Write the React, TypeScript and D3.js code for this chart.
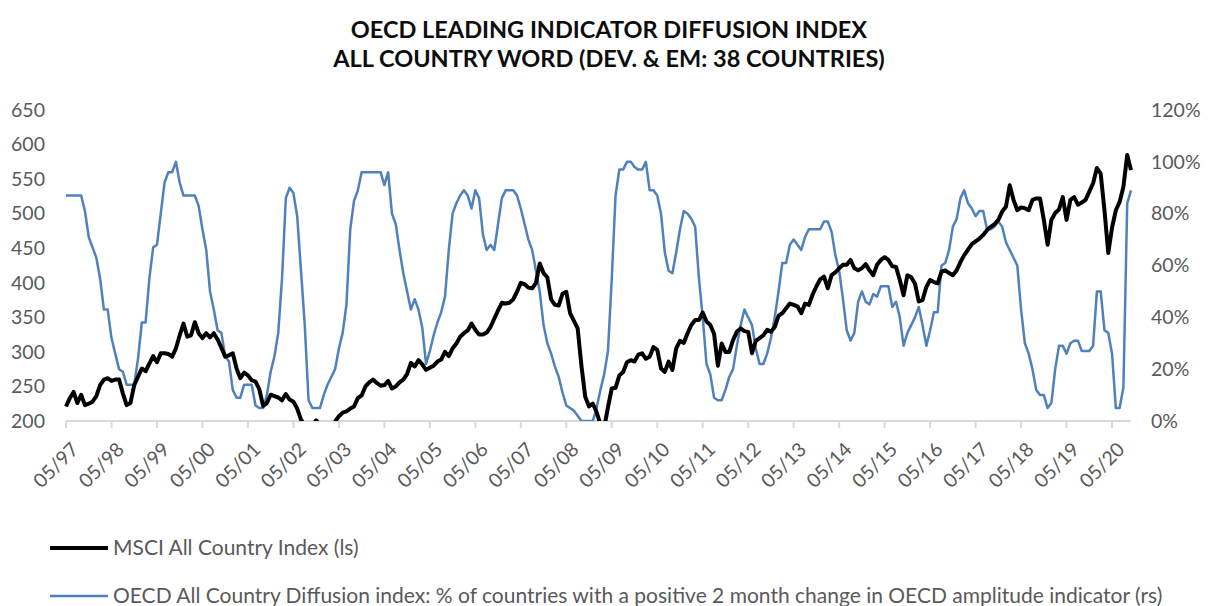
import * as d3 from "d3";

// monthly data, 05/1997 .. 10/2020 (one row per May..Apr year)
const msci = [
  221, 233, 242, 226, 238, 223, 225, 228, 236, 252, 260, 262,
  258, 260, 260, 240, 223, 226, 252, 264, 276, 272, 283, 294,
  285, 298, 298, 297, 293, 305, 324, 341, 322, 324, 343, 327,
  320, 327, 321, 327, 318, 306, 293, 295, 298, 276, 262, 270,
  266, 259, 257, 246, 222, 226, 238, 236, 234, 230, 239, 231,
  228, 218, 202, 194, 188, 193, 201, 195, 189, 186, 192, 199,
  207, 212, 214, 218, 221, 233, 237, 250, 256, 260, 255, 251,
  252, 258, 247, 250, 256, 260, 268, 284, 279, 288, 282, 274,
  277, 280, 286, 289, 300, 294, 305, 312, 322, 327, 331, 341,
  332, 325, 325, 328, 336, 348, 360, 371, 370, 371, 376, 387,
  400, 398, 393, 392, 400, 428, 414, 408, 376, 368, 367, 384,
  387, 356, 345, 334, 280, 235, 221, 225, 213, 195, 190, 220,
  247, 248, 266, 271, 285, 288, 286, 296, 298, 290, 293, 307,
  303, 276, 271, 286, 274, 305, 316, 313, 327, 339, 346, 346,
  357, 344, 339, 326, 280, 312, 300, 300, 317, 329, 334, 330,
  329, 298, 316, 320, 324, 332, 329, 336, 352, 356, 363, 370,
  368, 366, 356, 370, 368, 383, 395, 405, 409, 392, 411, 415,
  421, 426, 426, 433, 421, 418, 421, 427, 418, 411, 426, 433,
  437, 433, 424, 423, 404, 382, 411, 408, 399, 373, 375, 394,
  404, 401, 399, 416, 418, 414, 411, 418, 430, 440, 448, 456,
  460, 464, 469, 476, 481, 485, 491, 503, 510, 541, 520, 505,
  509, 508, 505, 520, 522, 522, 491, 455, 491, 501, 506, 524,
  491, 520, 524, 513, 516, 520, 532, 544, 566, 558, 505, 443,
  480, 505, 517, 539, 585, 563,
];

// % of countries with a positive 2 month change
const diffusion = [
  87, 87, 87, 87, 87, 81, 71, 67, 63, 55, 43, 43,
  32, 26, 20, 19, 14, 14, 14, 24, 38, 38, 55, 67,
  68, 80, 92, 96, 96, 100, 92, 87, 87, 87, 87, 83,
  74, 66, 50, 43, 35, 34, 25, 23, 12, 9, 9, 14,
  14, 14, 6, 5, 5, 10, 19, 25, 34, 55, 86, 90,
  88, 79, 58, 37, 8, 5, 5, 5, 10, 14, 17, 20,
  28, 34, 45, 74, 85, 89, 96, 96, 96, 96, 96, 96,
  91, 96, 80, 76, 66, 57, 50, 43, 47, 43, 36, 22,
  27, 33, 38, 42, 48, 66, 80, 84, 87, 89, 87, 82,
  89, 86, 72, 66, 68, 66, 76, 86, 89, 89, 89, 87,
  82, 76, 70, 66, 58, 50, 37, 30, 26, 21, 17, 11,
  6, 5, 4, 2, 0, 0, 0, 0, 5, 12, 18, 27,
  55, 87, 97, 97, 100, 100, 98, 97, 97, 100, 89, 89,
  87, 80, 65, 58, 57, 65, 74, 81, 80, 78, 75, 55,
  40, 22, 18, 9, 8, 8, 12, 17, 20, 29, 37, 43,
  40, 37, 28, 22, 22, 26, 32, 40, 50, 61, 61, 68,
  70, 68, 66, 71, 74, 74, 74, 74, 77, 77, 73, 64,
  58, 47, 35, 31, 34, 46, 50, 46, 45, 49, 48, 52,
  52, 52, 44, 46, 40, 29, 34, 37, 40, 44, 37, 29,
  35, 42, 42, 60, 61, 66, 75, 78, 86, 89, 84, 82,
  79, 81, 81, 74, 74, 75, 77, 75, 69, 66, 63, 60,
  43, 30, 26, 20, 12, 10, 10, 5, 7, 20, 29, 29,
  26, 30, 31, 31, 27, 27, 27, 29, 50, 50, 35, 34,
  26, 5, 5, 13, 84, 89,
];

const leftTicks = [200, 250, 300, 350, 400, 450, 500, 550, 600, 650];
const rightTicks = [0, 20, 40, 60, 80, 100, 120];

const titleLines = [
  "OECD LEADING INDICATOR DIFFUSION INDEX",
  "ALL COUNTRY WORD (DEV. & EM: 38 COUNTRIES)",
];
const legendItems = [
  { label: "MSCI All Country Index (ls)", color: "#000000", width: 4 },
  {
    label:
      "OECD All Country Diffusion index: % of countries with a positive 2 month change in OECD amplitude indicator (rs)",
    color: "#4f81bd",
    width: 2.5,
  },
];

const width = 1219;
const height = 606;
const plot = { left: 66, right: 1131, top: 110, bottom: 421 };
const font = "Lato, 'Noto Sans', sans-serif";
const grey = "#595959";

const start = new Date(1997, 4, 1);
const months = msci.map((_, i) => d3.timeMonth.offset(start, i));
const fmt = d3.timeFormat("%m/%y");

export default function App() {
  const x = d3
    .scalePoint<string>()
    .domain(months.map((d) => fmt(d)))
    .range([plot.left, plot.right]);
  const yL = d3.scaleLinear().domain([200, 650]).range([plot.bottom, plot.top]);
  const yR = d3.scaleLinear().domain([0, 120]).range([plot.bottom, plot.top]);

  const msciLine = d3
    .line<number>()
    .x((_, i) => x(fmt(months[i]))!)
    .y((d) => yL(d));
  const diffLine = d3
    .line<number>()
    .x((_, i) => x(fmt(months[i]))!)
    .y((d) => yR(d));

  const yearTicks = months.filter((d) => d.getMonth() === 4);

  return (
    <svg
      width={width}
      height={height}
      style={{ position: "absolute", left: 0, top: 0, background: "#fff" }}
      fontFamily={font}
    >
      <defs>
        <clipPath id="plot-clip">
          <rect x={0} y={plot.top - 20} width={width} height={plot.bottom - plot.top + 20} />
        </clipPath>
      </defs>

      {titleLines.map((t, i) => (
        <text
          key={t}
          x={609}
          y={38 + i * 29}
          textAnchor="middle"
          fontWeight="bold"
          fontSize={23.5}
          fill="#0d0d0d"
        >
          {t}
        </text>
      ))}

      {/* left axis labels */}
      {leftTicks.map((t) => (
        <text key={t} x={45} y={yL(t)} dy="0.35em" textAnchor="end" fontSize={19.5} fill={grey}>
          {t}
        </text>
      ))}

      {/* right axis labels */}
      {rightTicks.map((t) => (
        <text key={t} x={1151} y={yR(t)} dy="0.35em" textAnchor="start" fontSize={19.5} fill={grey}>
          {t}%
        </text>
      ))}

      {/* x axis */}
      <line x1={plot.left} x2={plot.right} y1={plot.bottom} y2={plot.bottom} stroke="#d9d9d9" strokeWidth={2} />
      {yearTicks.map((d) => {
        const tx = x(fmt(d))!;
        return (
          <g key={fmt(d)}>
            <line x1={tx} x2={tx} y1={plot.bottom} y2={plot.bottom + 7} stroke="#d9d9d9" strokeWidth={2} />
            <text
              transform={`translate(${tx + 9},${plot.bottom + 25}) rotate(-45)`}
              textAnchor="end"
              dy="0.35em"
              fontSize={19.5}
              fill={grey}
            >
              {fmt(d)}
            </text>
          </g>
        );
      })}

      <g clipPath="url(#plot-clip)">
        <path d={diffLine(diffusion)!} fill="none" stroke="#4f81bd" strokeWidth={2.5} strokeLinejoin="round" />
        <path d={msciLine(msci)!} fill="none" stroke="#000" strokeWidth={4} strokeLinejoin="round" />
      </g>

      {/* legend */}
      {legendItems.map((item, i) => {
        const ly = 548 + i * 48;
        return (
          <g key={item.label}>
            <line x1={50} x2={108} y1={ly} y2={ly} stroke={item.color} strokeWidth={item.width} />
            <text x={113} y={ly} dy="0.35em" fontSize={21} fill={grey}>
              {item.label}
            </text>
          </g>
        );
      })}
    </svg>
  );
}
